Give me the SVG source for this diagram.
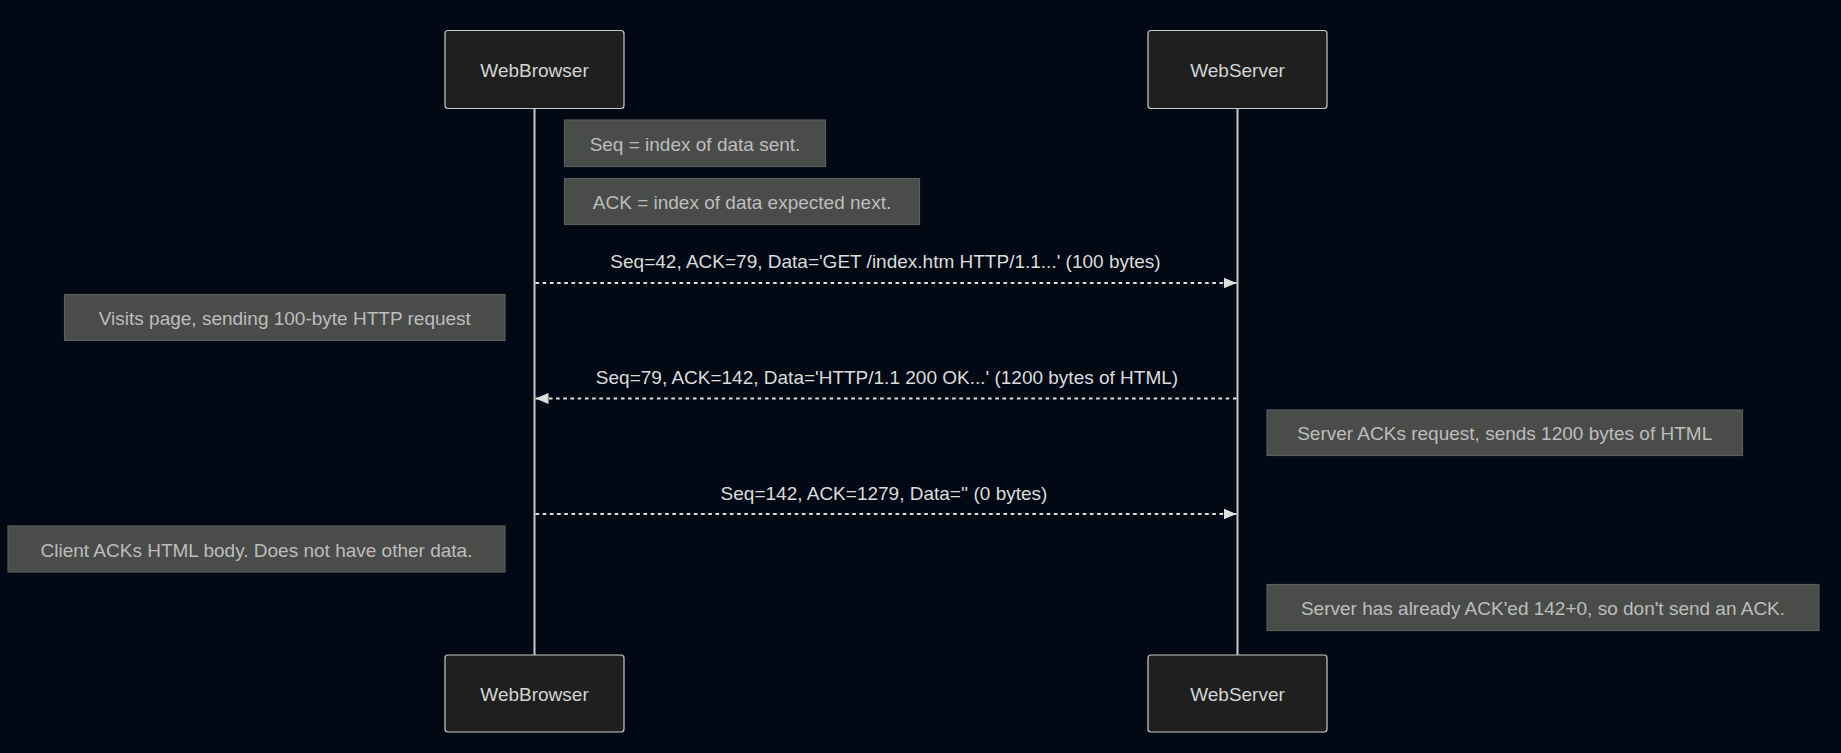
<svg xmlns="http://www.w3.org/2000/svg" width="1841" height="753" viewBox="0 0 1841 753">
<defs>
<style>
.actor rect{fill:#1f1f1f;stroke:#c8c8c8;stroke-width:1.2}
.actor text{fill:#d4d4d4;font-family:"Liberation Sans",Arial,sans-serif;font-size:19px;text-anchor:middle;dominant-baseline:central}
.note rect{fill:#4a4c4a;stroke:#5a5c5a;stroke-width:1.2}
.note text{fill:#bdbdbd;font-family:"Liberation Sans",Arial,sans-serif;font-size:19px;text-anchor:middle;dominant-baseline:central}
.life{stroke:#c8c8c8;stroke-width:2}
.msg{stroke:#dedede;stroke-width:2;stroke-dasharray:3.6,3.6;fill:none}
.mlabel{fill:#dcdcdc;font-family:"Liberation Sans",Arial,sans-serif;font-size:19px;text-anchor:middle;dominant-baseline:central}
</style>
<marker id="arrow" viewBox="0 0 13 12" refX="13" refY="6" markerWidth="13" markerHeight="12" markerUnits="userSpaceOnUse" orient="auto-start-reverse">
<path d="M0,0.5 L13,6 L0,11.5 z" fill="#dedede"/>
</marker>
</defs>
<rect x="0" y="0" width="1841" height="753" fill="#020814"/>
<g id="lifelines">
<line class="life" x1="534.5" y1="108.5" x2="534.5" y2="655"/>
<line class="life" x1="1237.5" y1="108.5" x2="1237.5" y2="655"/>
</g>
<g id="actor-browser-top" class="actor"><rect x="445" y="30.5" width="179" height="78" rx="3"/><text x="534.5" y="70.5">WebBrowser</text></g>
<g id="actor-server-top" class="actor"><rect x="1148" y="30.5" width="179" height="78" rx="3"/><text x="1237.5" y="70.5">WebServer</text></g>
<g id="actor-browser-bottom" class="actor"><rect x="445" y="655" width="179" height="77" rx="3"/><text x="534.5" y="694.5">WebBrowser</text></g>
<g id="actor-server-bottom" class="actor"><rect x="1148" y="655" width="179" height="77" rx="3"/><text x="1237.5" y="694.5">WebServer</text></g>
<g id="note-seq" class="note"><rect x="564.5" y="120" width="261" height="46.5"/><text x="695" y="144.5">Seq = index of data sent.</text></g>
<g id="note-ack" class="note"><rect x="564.5" y="178.5" width="355" height="46"/><text x="742" y="202.5">ACK = index of data expected next.</text></g>
<g id="note-visits" class="note"><rect x="64.5" y="294.5" width="440.5" height="46"/><text x="284.8" y="318.8">Visits page, sending 100-byte HTTP request</text></g>
<g id="note-server-acks" class="note"><rect x="1267" y="410" width="475.5" height="45.5"/><text x="1504.7" y="433.8">Server ACKs request, sends 1200 bytes of HTML</text></g>
<g id="note-client-acks" class="note"><rect x="8" y="526" width="497" height="46"/><text x="256.5" y="550">Client ACKs HTML body. Does not have other data.</text></g>
<g id="note-server-has" class="note"><rect x="1267" y="584.5" width="552" height="46"/><text x="1543" y="608.5">Server has already ACK'ed 142+0, so don't send an ACK.</text></g>
<g id="connectors">
<line class="msg" x1="535.5" y1="283" x2="1236.5" y2="283" marker-end="url(#arrow)"/>
<text class="mlabel" x="885.5" y="261">Seq=42, ACK=79, Data='GET /index.htm HTTP/1.1...' (100 bytes)</text>
<line class="msg" x1="1236.5" y1="398.5" x2="535.5" y2="398.5" marker-end="url(#arrow)"/>
<text class="mlabel" x="887" y="377">Seq=79, ACK=142, Data='HTTP/1.1 200 OK...' (1200 bytes of HTML)</text>
<line class="msg" x1="535.5" y1="514" x2="1236.5" y2="514" marker-end="url(#arrow)"/>
<text class="mlabel" x="884" y="493">Seq=142, ACK=1279, Data='' (0 bytes)</text>
</g>
</svg>
